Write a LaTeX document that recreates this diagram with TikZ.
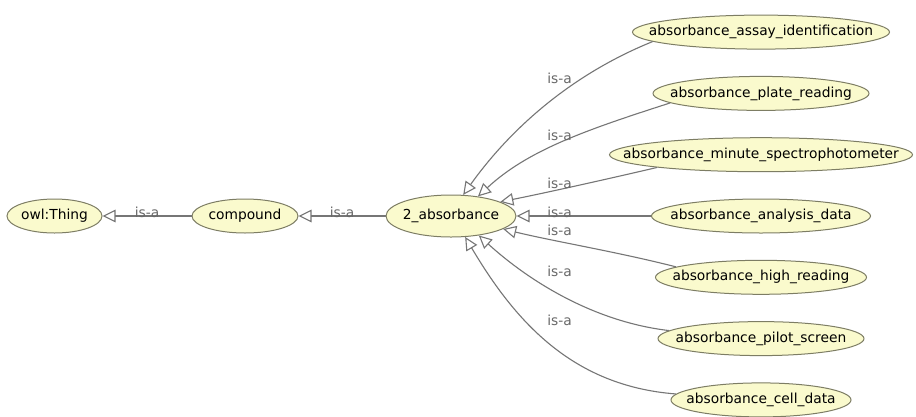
\documentclass[tikz,border=0pt]{standalone}
\usepackage{fontspec}
\setmainfont{DejaVu Sans}
\usetikzlibrary{shapes.geometric,arrows.meta}
\definecolor{clsfill}{RGB}{250,250,205}
\definecolor{clsline}{RGB}{125,125,100}
\definecolor{edgegray}{RGB}{118,118,118}
\definecolor{isagray}{RGB}{105,105,105}
\newcommand\clsname[1]{\makebox[0pt]{#1}}

\begin{document}
\begin{tikzpicture}[x=1pt,y=-1pt,
    cls/.style={ellipse,draw=clsline,fill=clsfill,line width=1pt,inner sep=0pt,
        minimum height=34pt,font=\fontsize{13.8}{16}\selectfont},
    isa/.style={draw=edgegray,line width=1.1pt,-{Triangle[open,length=13pt,width=12.5pt]}},
    isalbl/.style={anchor=base,inner sep=0pt,text=isagray,font=\fontsize{13.8}{16}\selectfont}]
    \useasboundingbox[fill=white](0,0)rectangle(916,416);
    \node[cls,minimum width=95pt](thing)at(54.5,216){\clsname{owl:Thing}};
    \node[cls,minimum width=106pt](compound)at(245,216){\clsname{compound}};
    \node[cls,minimum width=130pt,minimum height=42pt](abs)at(451,216){\clsname{2\_absorbance}};
    \node[cls,minimum width=257pt](assay)at(761,32.1){\clsname{absorbance\_assay\_identification}};
    \node[cls,minimum width=216pt](plate)at(761,93.4){\clsname{absorbance\_plate\_reading}};
    \node[cls,minimum width=303pt](minute)at(761,154.7){\clsname{absorbance\_minute\_spectrophotometer}};
    \node[cls,minimum width=219pt](analysis)at(761,216){\clsname{absorbance\_analysis\_data}};
    \node[cls,minimum width=211pt](high)at(761,277.3){\clsname{absorbance\_high\_reading}};
    \node[cls,minimum width=206pt](pilot)at(761,338.6){\clsname{absorbance\_pilot\_screen}};
    \node[cls,minimum width=180pt](cell)at(761,399.9){\clsname{absorbance\_cell\_data}};
    \draw[isa](compound)--(thing);
    \draw[isa](abs)--(compound);
    \draw[isa](assay.185)..controls(570,75)and(509.5,130)..(abs.60);
    \draw[isa](plate.186)..controls(586,130)and(528,150)..(abs.36);
    \draw[isa](minute.187)..controls(612,178)and(545,193)..(abs.16);
    \draw[isa](analysis)--(abs);
    \draw[isa](high.173.5)..controls(618,252)and(552,241)..(abs.346);
    \draw[isa](pilot.175)..controls(595,322)and(530,282)..(abs.325);
    \draw[isa](cell.176)..controls(572,386)and(515,321)..(abs.304);
    \node[isalbl](isa0)at(147,217){is-a};
    \node[isalbl](isa00)at(342,217){is-a};
    \node[isalbl](isa1)at(559.5,83){is-a};
    \node[isalbl](isa2)at(559.5,140){is-a};
    \node[isalbl](isa3)at(559.5,188){is-a};
    \node[isalbl](isa4)at(559.5,217){is-a};
    \node[isalbl](isa5)at(559.5,235){is-a};
    \node[isalbl](isa6)at(559.5,276){is-a};
    \node[isalbl](isa7)at(559.5,325){is-a};
\end{tikzpicture}
\end{document}
